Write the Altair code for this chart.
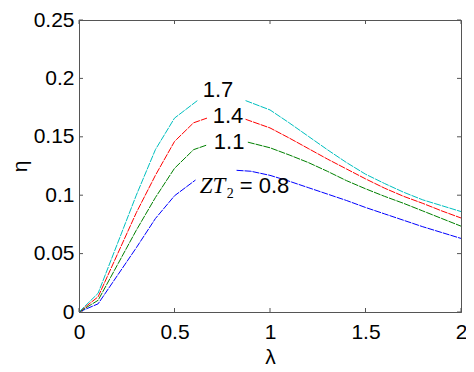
import altair as alt
import pandas as pd

# ---- data ----
zt_values = ["0.8", "1.1", "1.4", "1.7"]
line_colors = ["#0000ff", "#008000", "#ff0000", "#00bfbf"]

lam_l_08 = [0, 0.1, 0.2, 0.3, 0.4, 0.5, 0.61]
eta_l_08 = [0, 0.007, 0.031, 0.055, 0.080, 0.0995, 0.113]
lam_r_08 = [0.825, 0.9, 1.0, 1.1, 1.2, 1.3, 1.4, 1.5, 1.6, 1.7, 1.8, 1.9, 2.0]
eta_r_08 = [0.1213, 0.1205, 0.117, 0.112, 0.1065, 0.101, 0.0955, 0.0895, 0.084, 0.0785, 0.073, 0.068, 0.063]

lam_l_11 = [0, 0.1, 0.2, 0.3, 0.4, 0.5, 0.6, 0.67]
eta_l_11 = [0, 0.010, 0.040, 0.070, 0.098, 0.123, 0.139, 0.143]
lam_r_11 = [0.884, 1.0, 1.1, 1.2, 1.3, 1.4, 1.5, 1.6, 1.7, 1.8, 1.9, 2.0]
eta_r_11 = [0.1454, 0.1406, 0.1345, 0.128, 0.1205, 0.1125, 0.1055, 0.099, 0.093, 0.0865, 0.080, 0.0735]

lam_l_14 = [0, 0.1, 0.2, 0.3, 0.4, 0.5, 0.6, 0.67]
eta_l_14 = [0, 0.013, 0.049, 0.085, 0.117, 0.146, 0.162, 0.166]
lam_r_14 = [0.872, 1.0, 1.1, 1.2, 1.3, 1.4, 1.5, 1.6, 1.7, 1.8, 1.9, 2.0]
eta_r_14 = [0.165, 0.1576, 0.149, 0.140, 0.131, 0.1225, 0.114, 0.106, 0.099, 0.093, 0.0865, 0.0805]

lam_l_17 = [0, 0.1, 0.2, 0.3, 0.4, 0.5, 0.62]
eta_l_17 = [0, 0.016, 0.058, 0.100, 0.139, 0.166, 0.181]
lam_r_17 = [0.872, 1.0, 1.1, 1.2, 1.3, 1.4, 1.5, 1.6, 1.7, 1.8, 1.9, 2.0]
eta_r_17 = [0.181, 0.173, 0.162, 0.1505, 0.139, 0.128, 0.118, 0.110, 0.1025, 0.096, 0.091, 0.086]

x_ticks = [0, 0.5, 1, 1.5, 2]
y_ticks = [0, 0.05, 0.1, 0.15, 0.2, 0.25]

# curve labels: text, x, y (baseline)
num_labels = ["1.7", "1.4", "1.1"]
num_label_x = [0.728, 0.78, 0.786]
num_label_y = [0.1845, 0.1616, 0.1395]
zt_label_x = 0.632
zt_label_y = 0.102

# ---- build table ----
series = [
    ("0.8", lam_l_08, eta_l_08, lam_r_08, eta_r_08),
    ("1.1", lam_l_11, eta_l_11, lam_r_11, eta_r_11),
    ("1.4", lam_l_14, eta_l_14, lam_r_14, eta_r_14),
    ("1.7", lam_l_17, eta_l_17, lam_r_17, eta_r_17),
]
rows = []
for name, xl, yl, xr, yr in series:
    for xv, yv in zip(xl, yl):
        rows.append({"zt": name, "seg": name + "L", "lam": xv, "eta": yv})
    for xv, yv in zip(xr, yr):
        rows.append({"zt": name, "seg": name + "R", "lam": xv, "eta": yv})
df = pd.DataFrame(rows)

W, H = 382, 292
FONT = "Liberation Sans"

xscale = alt.Scale(domain=[0, 2], nice=False, zero=False)
yscale = alt.Scale(domain=[0, 0.25], nice=False, zero=False)

lines = alt.Chart(df).mark_line(strokeWidth=1, strokeDash=[7, 1]).encode(
    x=alt.X("lam:Q", scale=xscale,
            axis=alt.Axis(values=x_ticks, format="~g", title="λ", grid=False,
                          ticks=False, labelPadding=9, titlePadding=4,
                          labelFontSize=21, titleFontSize=21, labelFont=FONT,
                          titleFont=FONT, titleFontWeight="normal",
                          labelColor="black", titleColor="black",
                          domainColor="#555555", labelFlush=False)),
    y=alt.Y("eta:Q", scale=yscale,
            axis=alt.Axis(values=y_ticks, format="~g", title="η", grid=False,
                          ticks=False, labelPadding=5, titlePadding=3,
                          labelFontSize=21, titleFontSize=21, labelFont=FONT,
                          titleFont=FONT, titleFontWeight="normal",
                          labelColor="black", titleColor="black",
                          domainColor="#555555", labelFlush=False)),
    color=alt.Color("zt:N", scale=alt.Scale(domain=zt_values, range=line_colors), legend=None),
    detail="seg:N",
)

xt = pd.DataFrame({"t": x_ticks})
yt = pd.DataFrame({"t": y_ticks})
tick_color = "#555555"
xb = alt.Chart(xt).mark_rule(color=tick_color, strokeWidth=1).encode(
    x=alt.X("t:Q", scale=xscale), y=alt.value(H), y2=alt.value(H - 4))
xtop = alt.Chart(xt).mark_rule(color=tick_color, strokeWidth=1).encode(
    x=alt.X("t:Q", scale=xscale), y=alt.value(0), y2=alt.value(4))
yl_ = alt.Chart(yt).mark_rule(color=tick_color, strokeWidth=1).encode(
    y=alt.Y("t:Q", scale=yscale), x=alt.value(0), x2=alt.value(4))
yr_ = alt.Chart(yt).mark_rule(color=tick_color, strokeWidth=1).encode(
    y=alt.Y("t:Q", scale=yscale), x=alt.value(W), x2=alt.value(W - 4))

lab_df = pd.DataFrame({"txt": num_labels, "x": num_label_x, "y": num_label_y})
num_text = alt.Chart(lab_df).mark_text(font=FONT, fontSize=22, align="center",
                                       baseline="alphabetic", color="black").encode(
    x=alt.X("x:Q", scale=xscale), y=alt.Y("y:Q", scale=yscale), text="txt:N")

zt_df = pd.DataFrame({"x": [zt_label_x], "y": [zt_label_y]})
zt_text = alt.Chart(zt_df).mark_text(font="Liberation Serif", fontStyle="italic",
                                     fontSize=23, align="left", baseline="alphabetic",
                                     color="black", text="ZT").encode(
    x=alt.X("x:Q", scale=xscale), y=alt.Y("y:Q", scale=yscale))
sub_text = alt.Chart(zt_df).mark_text(font="Liberation Serif", fontSize=14, align="left",
                                      baseline="alphabetic", color="black", text="2",
                                      dx=27, dy=5).encode(
    x=alt.X("x:Q", scale=xscale), y=alt.Y("y:Q", scale=yscale))
eq_text = alt.Chart(zt_df).mark_text(font=FONT, fontSize=22, align="left",
                                     baseline="alphabetic", color="black", text="= 0.8",
                                     dx=40).encode(
    x=alt.X("x:Q", scale=xscale), y=alt.Y("y:Q", scale=yscale))

chart = alt.layer(lines, xb, xtop, yl_, yr_, num_text, zt_text, sub_text, eq_text).properties(
    width=W, height=H,
    autosize=alt.AutoSizeParams(type="none"),
    padding={"left": 71, "top": 12, "right": 5, "bottom": 54},
    background="white",
).configure_view(stroke="#555555", strokeWidth=1)

chart.save("out.html", embed_options={"renderer": "svg", "actions": False})
